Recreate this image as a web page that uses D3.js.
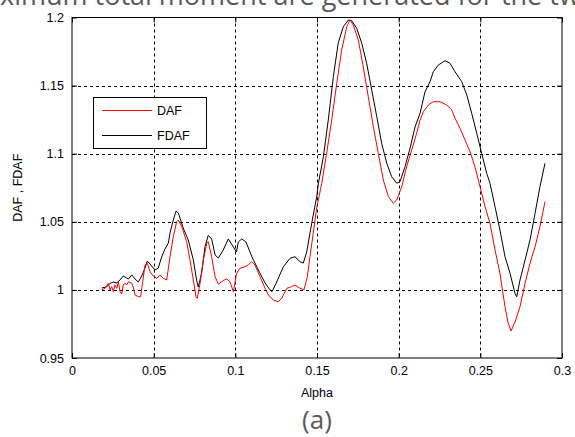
<!DOCTYPE html>
<html><head><meta charset="utf-8">
<script src="https://cdn.jsdelivr.net/npm/d3@7"></script>
<style>body{margin:0;background:#fff;overflow:hidden}svg{display:block}</style>
</head><body>
<svg id="chart" width="575" height="437"></svg>
<script>
const xTicks = [0, 0.05, 0.1, 0.15, 0.2, 0.25, 0.3];
const xTickLabels = ["0", "0.05", "0.1", "0.15", "0.2", "0.25", "0.3"];
const yTicks = [0.95, 1, 1.05, 1.1, 1.15, 1.2];
const yTickLabels = ["0.95", "1", "1.05", "1.1", "1.15", "1.2"];
const seriesNames = ["DAF", "FDAF"];

const dafAlpha = [0.0182,0.0202,0.0222,0.0233,0.0243,0.0253,0.0263,0.0274,0.0284,0.0294,0.0304,0.0314,0.0324,0.0335,0.0345,0.0366,0.0375,0.0386,0.0406,0.042,0.0433,0.0447,0.0461,0.0478,0.0498,0.0519,0.0539,0.0559,0.058,0.06,0.062,0.0641,0.0651,0.0672,0.0702,0.0722,0.0743,0.0759,0.0767,0.0784,0.0804,0.0825,0.0834,0.0855,0.0876,0.0896,0.0926,0.0947,0.0967,0.0988,0.1008,0.1029,0.1059,0.1079,0.11,0.112,0.1151,0.1182,0.1202,0.1233,0.1263,0.1284,0.1315,0.1345,0.1365,0.1396,0.142,0.1441,0.1457,0.1477,0.1498,0.1529,0.1559,0.159,0.1621,0.1651,0.1682,0.1702,0.1722,0.1753,0.1783,0.1814,0.1845,0.1875,0.1906,0.1937,0.1967,0.1988,0.2019,0.2049,0.208,0.211,0.2131,0.2151,0.2182,0.2212,0.2253,0.2294,0.2325,0.2345,0.2376,0.2406,0.2437,0.2467,0.2498,0.2529,0.2559,0.259,0.262,0.2651,0.2669,0.2688,0.2712,0.2743,0.2774,0.2804,0.2835,0.2865,0.2896];
const dafValues = [1.0,1.0012,1.0049,1.0,1.0024,0.9987,1.0036,1.0012,1.0058,0.9987,0.997,1.0036,1.0049,1.0036,1.006,1.0049,1.0021,0.9963,0.995,0.995,1.006,1.0183,1.0195,1.0134,1.0102,1.0085,1.0109,1.0085,1.0073,1.0244,1.0391,1.0501,1.0513,1.0464,1.0354,1.022,1.0073,0.995,0.9938,1.0049,1.022,1.0342,1.0354,1.0244,1.0097,1.0043,1.0069,1.008,1.006,0.9987,1.0122,1.0159,1.017,1.0183,1.0207,1.0183,1.0097,1.0012,0.9963,0.9926,0.9913,0.9938,1.0012,1.0024,1.0036,1.0012,1.0,1.0097,1.0244,1.0416,1.0601,1.0783,1.1003,1.1247,1.1517,1.1761,1.1932,1.1982,1.1945,1.1835,1.1639,1.1418,1.1198,1.1003,1.0807,1.0684,1.0636,1.066,1.0758,1.0905,1.1027,1.115,1.1247,1.1308,1.1358,1.1382,1.1382,1.1358,1.1321,1.126,1.1186,1.1101,1.1015,1.0905,1.0758,1.0611,1.0489,1.0293,1.0122,0.9877,0.9764,0.9698,0.9764,0.9877,1.0049,1.0195,1.0317,1.0464,1.0648];

const fdafAlpha = [0.0182,0.0212,0.0233,0.0253,0.0274,0.0294,0.0314,0.0324,0.0345,0.0366,0.0386,0.0406,0.0427,0.0447,0.0461,0.0478,0.0508,0.0528,0.0549,0.0569,0.059,0.06,0.062,0.0637,0.0651,0.0681,0.0712,0.0743,0.0763,0.0773,0.0794,0.0814,0.0834,0.0855,0.0876,0.0896,0.0926,0.0957,0.0988,0.1007,0.1018,0.1039,0.1065,0.1102,0.1141,0.1182,0.1212,0.1225,0.1253,0.1294,0.1335,0.1365,0.1396,0.1416,0.1437,0.1457,0.1477,0.1498,0.1508,0.1539,0.1569,0.16,0.163,0.1661,0.1692,0.1712,0.1743,0.1774,0.1804,0.1835,0.1866,0.1896,0.1927,0.1957,0.1988,0.2008,0.2039,0.207,0.21,0.2131,0.2161,0.2192,0.2212,0.2243,0.2284,0.2314,0.2345,0.2386,0.2417,0.2447,0.2478,0.2508,0.2539,0.2559,0.259,0.262,0.2651,0.2682,0.2712,0.2723,0.2743,0.2774,0.2804,0.2835,0.2865,0.2896];
const fdafValues = [1.0014,1.0023,1.0047,1.0058,1.0051,1.0073,1.0102,1.0095,1.008,1.011,1.008,1.0058,1.0102,1.0161,1.0212,1.019,1.0146,1.016,1.0242,1.030,1.0344,1.0418,1.0513,1.0579,1.0565,1.0454,1.0366,1.022,1.0073,1.0021,1.0124,1.0315,1.04,1.0374,1.0256,1.0234,1.0293,1.0374,1.0315,1.0278,1.0352,1.0374,1.0352,1.0242,1.0146,1.0051,1.0,0.9988,1.0058,1.017,1.0232,1.0244,1.0207,1.0197,1.0278,1.0418,1.055,1.0682,1.0778,1.0978,1.1247,1.1565,1.1813,1.1932,1.1982,1.1977,1.1921,1.1811,1.1664,1.1468,1.1272,1.1076,1.093,1.0831,1.0783,1.0794,1.0905,1.1042,1.1196,1.1297,1.1453,1.1529,1.1602,1.1651,1.1683,1.1664,1.1602,1.1529,1.1431,1.1297,1.115,1.1003,1.0856,1.0783,1.0611,1.044,1.0244,1.0122,0.9975,0.995,1.0073,1.022,1.0366,1.0562,1.0758,1.093];

const svg = d3.select("#chart");
const L = 72, T = 17.5, R = 562, B = 358;
const x = d3.scaleLinear().domain([0, 0.3]).range([L, R]);
const y = d3.scaleLinear().domain([0.95, 1.2]).range([B, T]);
const axisFont = "'Liberation Sans', Arial, sans-serif";

// top cropped text (continuation of the page text above the figure)
svg.append("text").attr("x", -40).attr("y", 5)
  .attr("font-family", "'Open Sans', sans-serif").attr("font-size", 27)
  .attr("fill", "#5a5a5a")
  .text("maximum total moment are generated for the two");

// grid
const grid = svg.append("g").attr("stroke", "#000").attr("stroke-width", 1).attr("stroke-dasharray", "3,3");
xTicks.slice(1, -1).forEach(t => grid.append("line").attr("x1", Math.round(x(t)) + 0.5).attr("x2", Math.round(x(t)) + 0.5).attr("y1", T).attr("y2", B));
yTicks.slice(1, -1).forEach(t => grid.append("line").attr("y1", Math.round(y(t)) + 0.5).attr("y2", Math.round(y(t)) + 0.5).attr("x1", L).attr("x2", R));

// axes via d3 axes (inward ticks)
const xAxisB = d3.axisBottom(x).tickValues(xTicks).tickSize(-5).tickPadding(8).tickFormat((d, i) => xTickLabels[i]);
const xAxisT = d3.axisTop(x).tickValues(xTicks).tickSize(-5).tickFormat("");
const yAxisL = d3.axisLeft(y).tickValues(yTicks).tickSize(-5).tickPadding(8).tickFormat((d, i) => yTickLabels[i]);
const yAxisR = d3.axisRight(y).tickValues(yTicks).tickSize(-5).tickFormat("");
function styleAxis(g) {
  g.select(".domain").remove();
  g.selectAll("line").attr("stroke", "#000");
  g.selectAll("text").attr("font-family", axisFont).attr("font-size", 12.5).attr("fill", "#000");
}
svg.append("g").attr("transform", `translate(0,${B})`).call(xAxisB).call(styleAxis);
svg.append("g").attr("transform", `translate(0,${T})`).call(xAxisT).call(styleAxis);
svg.append("g").attr("transform", `translate(${L},0)`).call(yAxisL).call(styleAxis);
svg.append("g").attr("transform", `translate(${R},0)`).call(yAxisR).call(styleAxis);

// data lines
const line = d3.line().x(d => x(d[0])).y(d => y(d[1]));
const daf = dafAlpha.map((a, i) => [a, dafValues[i]]);
const fdaf = fdafAlpha.map((a, i) => [a, fdafValues[i]]);
svg.append("path").datum(fdaf).attr("d", line).attr("fill", "none").attr("stroke", "#000").attr("stroke-width", 1);
svg.append("path").datum(daf).attr("d", line).attr("fill", "none").attr("stroke", "#ff0000").attr("stroke-width", 1);

// box
svg.append("rect").attr("x", L).attr("y", T).attr("width", R - L).attr("height", B - T)
  .attr("fill", "none").attr("stroke", "#000").attr("stroke-width", 1);

// legend
const lg = svg.append("g");
lg.append("rect").attr("x", 93.5).attr("y", 97.5).attr("width", 113).attr("height", 51).attr("fill", "#fff").attr("stroke", "#000");
const colors = ["#ff0000", "#000"];
seriesNames.forEach((n, i) => {
  const yy = 110.5 + i * 25;
  lg.append("line").attr("x1", 102).attr("x2", 152).attr("y1", yy).attr("y2", yy).attr("stroke", colors[i]);
  lg.append("text").attr("x", 157).attr("y", yy + 4.5).attr("font-family", axisFont).attr("font-size", 12.5).attr("fill", "#000").text(n);
});

// axis titles
svg.append("text").attr("x", x(0.15)).attr("y", 397).attr("text-anchor", "middle")
  .attr("font-family", axisFont).attr("font-size", 12.5).attr("fill", "#000").text("Alpha");
svg.append("text").attr("transform", `translate(22,${(T + B) / 2}) rotate(-90)`).attr("text-anchor", "middle")
  .attr("font-family", axisFont).attr("font-size", 12.5).attr("fill", "#000").text("DAF , FDAF");

// caption
svg.append("text").attr("x", x(0.15)).attr("y", 429).attr("text-anchor", "middle")
  .attr("font-family", "'Open Sans', sans-serif").attr("font-size", 26).attr("fill", "#5a5a5a").text("(a)");
</script>
</body></html>
